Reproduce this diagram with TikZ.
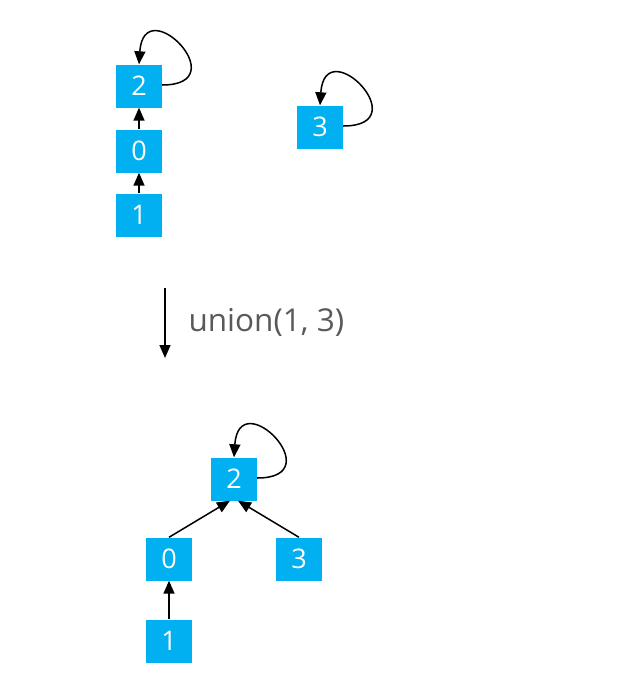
\documentclass[tikz,border=0pt]{standalone}
\usepackage{fontspec}
\setmainfont{Open Sans}
\usetikzlibrary{arrows.meta}

\definecolor{boxblue}{HTML}{00B0F0}
\definecolor{txtgray}{HTML}{595959}

\tikzset{
  vtx/.style={fill=boxblue, text=white, minimum width=46pt, minimum height=43pt,
    inner sep=0pt, font=\fontsize{27}{30}\selectfont},
  edge/.style={-{Triangle[length=13pt,width=11pt]}, line width=1.5pt},
}

\begin{document}
\begin{tikzpicture}[x=1pt, y=1pt]
  \useasboundingbox (0,0) rectangle (643,-688);

  % before
  \node[vtx] (a2) at (139,-86) {2};
  \node[vtx] (a0) at (139,-151) {0};
  \node[vtx] (a1) at (139,-215) {1};
  \node[vtx] (a3) at (320,-127) {3};

  \draw[edge] (a1) -- (a0);
  \draw[edge] (a0) -- (a2);
  \draw[edge] ([yshift=1pt]a2.east) .. controls +(75,0) and +(5,75) .. (a2.north);
  \draw[edge] ([yshift=1pt]a3.east) .. controls +(75,0) and +(5,75) .. (a3.north);

  % operation
  \coordinate (s) at (165,-288);
  \coordinate (e) at (165,-358);
  \draw[edge] (s) -- (e);
  \node[anchor=west, text=txtgray, font=\fontsize{31.5}{34}\selectfont] (op) at (185,-322) {union(1, 3)};

  % after
  \node[vtx] (b2) at (234,-479) {2};
  \node[vtx] (b0) at (169,-559) {0};
  \node[vtx] (b3) at (299,-559) {3};
  \node[vtx] (b1) at (169,-641) {1};

  \draw[edge] (b1) -- (b0);
  \draw[edge] (b0.north) -- ([xshift=-4pt]b2.south);
  \draw[edge] (b3.north) -- ([xshift=4pt]b2.south);
  \draw[edge] ([yshift=1pt]b2.east) .. controls +(75,0) and +(5,75) .. (b2.north);
\end{tikzpicture}
\end{document}
